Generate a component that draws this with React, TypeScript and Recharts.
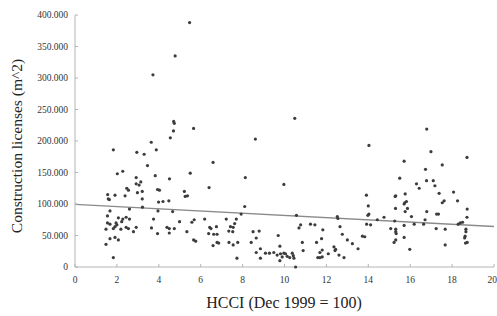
import React from 'react';
import {
  ScatterChart,
  Scatter,
  XAxis,
  YAxis,
  ReferenceLine,
} from 'recharts';

// HCCI index values (Dec 1999 = 100) and construction licenses in thousand m^2
const hcci = [
  5.47, 4.78, 3.72, 4.71, 4.74, 4.70, 5.66, 10.49,
  1.83, 2.95, 3.30, 3.64, 3.88, 4.55, 8.61, 3.46, 2.28, 2.02, 3.83, 5.50,
  6.59, 8.13, 9.97, 2.92, 4.51, 3.14, 2.92, 3.06, 2.47, 2.55, 3.21, 3.94,
  4.03, 5.22, 6.40, 2.98, 1.56, 1.91, 2.39, 5.26, 5.37, 1.59, 1.64, 3.21,
  3.99, 4.20, 4.48, 8.10, 3.22, 2.60, 1.67, 3.96, 4.66, 7.93, 1.55, 2.07,
  2.44, 2.60, 3.75, 4.99, 5.69, 5.58, 6.19, 7.22, 7.70, 2.28, 2.23, 1.55,
  1.67, 1.96, 2.00, 1.91, 1.83, 2.44, 2.55, 2.92, 3.65, 4.39, 4.50, 4.74,
  6.43, 6.49, 6.75, 7.42, 7.55, 7.62, 1.48, 2.19, 2.79, 3.94, 4.50, 5.34,
  6.38, 6.62, 6.78, 7.34, 7.53, 8.50, 8.79, 9.70, 1.67, 1.91, 2.07, 5.66,
  5.76, 6.78, 6.86, 6.59, 7.35, 7.55, 7.77, 8.41, 8.65, 1.48, 9.78, 8.85,
  8.65, 8.85, 9.09, 9.28, 9.49, 9.65, 9.81, 9.89, 9.78, 7.73, 1.83,
  14.03, 16.79, 16.99, 18.71, 15.71, 17.53, 16.73, 15.50, 16.78, 17.10, 17.18,
  16.30, 16.43, 17.38, 18.07, 15.76, 13.91, 15.31, 15.28, 18.26, 17.62, 17.53,
  15.74, 15.82, 15.71, 14.00, 15.30, 15.87, 15.76, 18.72, 14.03, 13.98, 16.79,
  17.26, 17.35, 10.57, 12.52, 12.55, 14.75, 18.71, 14.43, 16.06, 16.71, 18.39,
  18.50, 18.29, 13.92, 14.11, 15.26, 15.71, 16.19, 16.64, 11.24, 11.45, 10.77,
  10.69, 12.65, 15.07, 15.31, 15.31, 15.33, 17.24, 17.67, 18.66, 18.66, 18.62,
  18.60, 18.64, 18.72, 11.83, 12.76, 13.72, 13.83, 15.71, 11.77, 10.85, 11.53,
  13.00, 13.24, 13.51, 15.31, 15.23, 17.67, 12.36, 12.44, 12.41, 11.80, 11.69,
  10.89, 12.60, 12.84, 11.59, 11.69, 11.80, 12.09, 15.98, 9.97, 10.05, 10.13,
  10.37, 10.42, 10.45, 10.25, 10.53,
];

const licenses = [
  388, 335, 305, 231, 228, 216, 220, 236,
  186, 182, 179, 198, 186, 205, 203, 161, 152, 148, 145, 149,
  166, 142, 131, 142, 140, 135, 132, 130, 125, 122, 120, 123,
  122, 120, 126, 118, 115, 114, 113, 112, 113, 108, 107, 108,
  103, 104, 105, 96, 95, 92, 89, 89, 88, 84, 81, 78,
  79, 76, 76, 72, 75, 71, 76, 76, 76, 76, 72, 70,
  68, 70, 67, 64, 61, 63, 61, 63, 62, 63, 61, 61,
  63, 61, 64, 64, 63, 69, 60, 60, 56, 53, 54, 56,
  53, 52, 52, 57, 56, 56, 57, 50, 45, 47, 43, 43,
  41, 39, 38, 34, 39, 35, 39, 39, 46, 36, 33, 29,
  23, 14, 22, 22, 23, 19, 21, 16, 10, 14, 15,
  193, 219, 183, 174, 168, 162, 155, 141, 137, 137, 129,
  132, 125, 117, 119, 116, 114, 113, 112, 105, 105, 102,
  102, 104, 100, 97, 93, 93, 88, 92, 84, 82, 88,
  84, 84, 82, 80, 77, 79, 79, 75, 80, 75, 70,
  71, 68, 68, 67, 73, 66, 68, 68, 68, 67, 67,
  62, 64, 61, 60, 56, 53, 61, 60, 60, 56, 49,
  46, 38, 39, 59, 52, 49, 48, 47, 45, 39, 39,
  43, 37, 29, 43, 39, 35, 32, 28, 26, 27, 23,
  26, 19, 15, 15, 15, 16, 21, 28, 22, 21, 17,
  22, 18, 14, 15, 0,
];

// least-squares trend line end points
const trendX = [0, 20];
const trendY = [99.5, 64.3];

const xTicks = [0, 2, 4, 6, 8, 10, 12, 14, 16, 18, 20];
const yTicks = [0, 50, 100, 150, 200, 250, 300, 350, 400];

const points = hcci.map((x, i) => ({ hcci: x, value: licenses[i] * 1000 }));

const axisColor = '#b4b4b4';
const tickFont = { fill: '#333', fontSize: 9.5, fontFamily: 'Liberation Serif' };

const fmtY = (v: number) => (v === 0 ? '0' : `${v / 1000}.000`);

const Dot = (props: any) => <circle cx={props.cx} cy={props.cy} r={1.6} fill="#3c3c3c" />;

// last label sits right at the edge, keep it inside the picture
const XTick = (props: any) => {
  const { x, y, payload } = props;
  const last = payload.value === xTicks[xTicks.length - 1];
  return (
    <text
      x={last ? x + 3 : x}
      y={y}
      dy="0.71em"
      textAnchor={last ? 'end' : 'middle'}
      fill={tickFont.fill}
      fontSize={tickFont.fontSize}
      fontFamily={tickFont.fontFamily}
    >
      {payload.value}
    </text>
  );
};

export default function App() {
  return (
    <div style={{ position: 'absolute', left: 0, top: 0, width: 497, height: 316, background: '#fff' }}>
      <ScatterChart width={497} height={316} margin={{ top: 15, right: 3, bottom: 0, left: 0 }}>
        <XAxis
          dataKey="hcci"
          type="number"
          domain={[0, 20]}
          ticks={xTicks}
          height={49}
          stroke={axisColor}
          tickSize={-3}
          tickMargin={12}
          tick={<XTick />}
          interval={0}
        />
        <XAxis
          xAxisId="top"
          orientation="top"
          dataKey="hcci"
          type="number"
          domain={[0, 20]}
          ticks={xTicks}
          height={0}
          stroke={axisColor}
          tickSize={-3}
          tick={false}
        />
        <YAxis
          dataKey="value"
          type="number"
          domain={[0, 400000]}
          ticks={yTicks.map((t) => t * 1000)}
          width={75}
          stroke={axisColor}
          tickSize={-3}
          tickMargin={10}
          tick={tickFont}
          tickFormatter={fmtY}
          interval={0}
        />
        <YAxis
          yAxisId="right"
          orientation="right"
          dataKey="value"
          type="number"
          domain={[0, 400000]}
          ticks={yTicks.map((t) => t * 1000)}
          width={0}
          stroke={axisColor}
          tickSize={-3}
          tick={false}
        />
        <Scatter data={points} shape={Dot} isAnimationActive={false} />
        <ReferenceLine
          segment={[
            { x: trendX[0], y: trendY[0] * 1000 },
            { x: trendX[1], y: trendY[1] * 1000 },
          ]}
          stroke="#8a8a8a"
          strokeWidth={1.3}
        />
      </ScatterChart>
      <div
        style={{
          position: 'absolute',
          left: 284,
          top: 303,
          transform: 'translate(-50%, -50%)',
          whiteSpace: 'nowrap',
          fontFamily: 'Liberation Serif',
          fontSize: 16,
          color: '#222',
        }}
      >
        HCCI (Dec 1999 = 100)
      </div>
      <div
        style={{
          position: 'absolute',
          left: 17,
          top: 146,
          transform: 'translate(-50%, -50%) rotate(-90deg)',
          whiteSpace: 'nowrap',
          fontFamily: 'Liberation Serif',
          fontSize: 15.5,
          color: '#222',
        }}
      >
        Construction licenses (m^2)
      </div>
    </div>
  );
}
